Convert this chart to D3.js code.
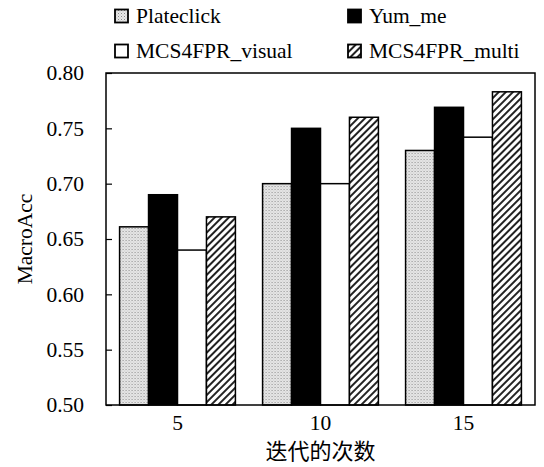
<!DOCTYPE html>
<html>
<head>
<meta charset="utf-8">
<script src="https://cdn.jsdelivr.net/npm/d3@7"></script>
<style>
  body { margin: 0; background: #fff; }
  text { font-family: "Liberation Serif", "Times New Roman", serif; }
</style>
</head>
<body>
<script>
const iterations = ['5', '10', '15'];
const seriesNames = ['Plateclick', 'Yum_me', 'MCS4FPR_visual', 'MCS4FPR_multi'];
const plateclick = [0.661, 0.700, 0.730];
const yumMe = [0.690, 0.750, 0.769];
const mcsVisual = [0.640, 0.700, 0.742];
const mcsMulti = [0.670, 0.760, 0.783];
const yTicks = [0.50, 0.55, 0.60, 0.65, 0.70, 0.75, 0.80];

const values = [plateclick, yumMe, mcsVisual, mcsMulti];
const fills = ['url(#dots)', '#000', '#fff', 'url(#hatch)'];

const width = 544, height = 467;
const margin = { top: 73, right: 9, bottom: 62, left: 106 };
const fontSize = 21.5;

const svg = d3.select('body').append('svg')
    .attr('width', width)
    .attr('height', height);

const defs = svg.append('defs');
const dots = defs.append('pattern')
    .attr('id', 'dots')
    .attr('patternUnits', 'userSpaceOnUse')
    .attr('width', 3).attr('height', 3);
dots.append('rect').attr('width', 3).attr('height', 3).attr('fill', '#e8e8e8');
dots.append('rect').attr('width', 1).attr('height', 1).attr('fill', '#8a8a8a');
dots.append('rect').attr('x', 1.5).attr('y', 1.5).attr('width', 1).attr('height', 1).attr('fill', '#b4b4b4');

const hatch = defs.append('pattern')
    .attr('id', 'hatch')
    .attr('patternUnits', 'userSpaceOnUse')
    .attr('width', 5).attr('height', 5)
    .attr('patternTransform', 'rotate(45)');
hatch.append('rect').attr('width', 5).attr('height', 5).attr('fill', '#fff');
hatch.append('rect').attr('width', 2).attr('height', 5).attr('fill', '#222');

const x0 = d3.scaleBand()
    .domain(iterations)
    .range([margin.left, width - margin.right])
    .paddingInner(0.19)
    .paddingOuter(0.095);

const x1 = d3.scaleBand()
    .domain(d3.range(seriesNames.length))
    .range([0, x0.bandwidth()]);

const y = d3.scaleLinear()
    .domain([0.5, 0.8])
    .range([height - margin.bottom, margin.top]);

// bars
const groups = svg.append('g').selectAll('g')
    .data(iterations)
    .join('g')
    .attr('transform', d => `translate(${x0(d)},0)`);

groups.selectAll('rect')
    .data((d, i) => values.map((v, s) => ({ s, v: v[i] })))
    .join('rect')
    .attr('x', d => x1(d.s))
    .attr('y', d => y(d.v))
    .attr('width', x1.bandwidth())
    .attr('height', d => y(0.5) - y(d.v))
    .attr('fill', d => fills[d.s])
    .attr('stroke', '#000')
    .attr('stroke-width', 1.5);

// frame
svg.append('rect')
    .attr('x', margin.left)
    .attr('y', margin.top)
    .attr('width', width - margin.left - margin.right)
    .attr('height', height - margin.top - margin.bottom)
    .attr('fill', 'none')
    .attr('stroke', '#000')
    .attr('stroke-width', 1.5);

// y axis, ticks inward
const yAxis = svg.append('g')
    .attr('transform', `translate(${margin.left},0)`)
    .call(d3.axisLeft(y).tickValues(yTicks).tickSizeInner(-6).tickSizeOuter(0).tickPadding(22).tickFormat(d3.format('.2f')));
yAxis.select('.domain').remove();
yAxis.selectAll('line').attr('stroke-width', 1.2);
yAxis.selectAll('text').attr('font-size', fontSize).attr('fill', '#000')
    .style('font-family', '"Liberation Serif", serif');

// x axis labels
const xAxis = svg.append('g')
    .attr('transform', `translate(0,${height - margin.bottom})`)
    .call(d3.axisBottom(x0).tickSize(0).tickPadding(10));
xAxis.select('.domain').remove();
xAxis.selectAll('text').attr('font-size', fontSize).attr('fill', '#000')
    .style('font-family', '"Liberation Serif", serif');

// axis titles
svg.append('text')
    .attr('transform', `translate(32,${(margin.top + height - margin.bottom) / 2}) rotate(-90)`)
    .attr('text-anchor', 'middle')
    .attr('font-size', fontSize)
    .text('MacroAcc');

svg.append('text')
    .attr('x', x0('10') + x0.bandwidth() / 2)
    .attr('y', 459)
    .attr('text-anchor', 'middle')
    .attr('font-size', 22)
    .style('font-family', '"Noto Sans CJK SC", sans-serif')
    .text('迭代的次数');

// legend
const legendPos = [[115, 16], [348, 16], [115, 51], [348, 51]];
const legend = svg.append('g').selectAll('g')
    .data(seriesNames)
    .join('g')
    .attr('transform', (d, i) => `translate(${legendPos[i][0]},${legendPos[i][1]})`);

legend.append('rect')
    .attr('x', 0).attr('y', -6.5)
    .attr('width', 13).attr('height', 13)
    .attr('fill', (d, i) => fills[i])
    .attr('stroke', '#000')
    .attr('stroke-width', 1.8);

legend.append('text')
    .attr('x', 21)
    .attr('y', 7)
    .attr('font-size', fontSize)
    .text(d => d);
</script>
</body>
</html>
